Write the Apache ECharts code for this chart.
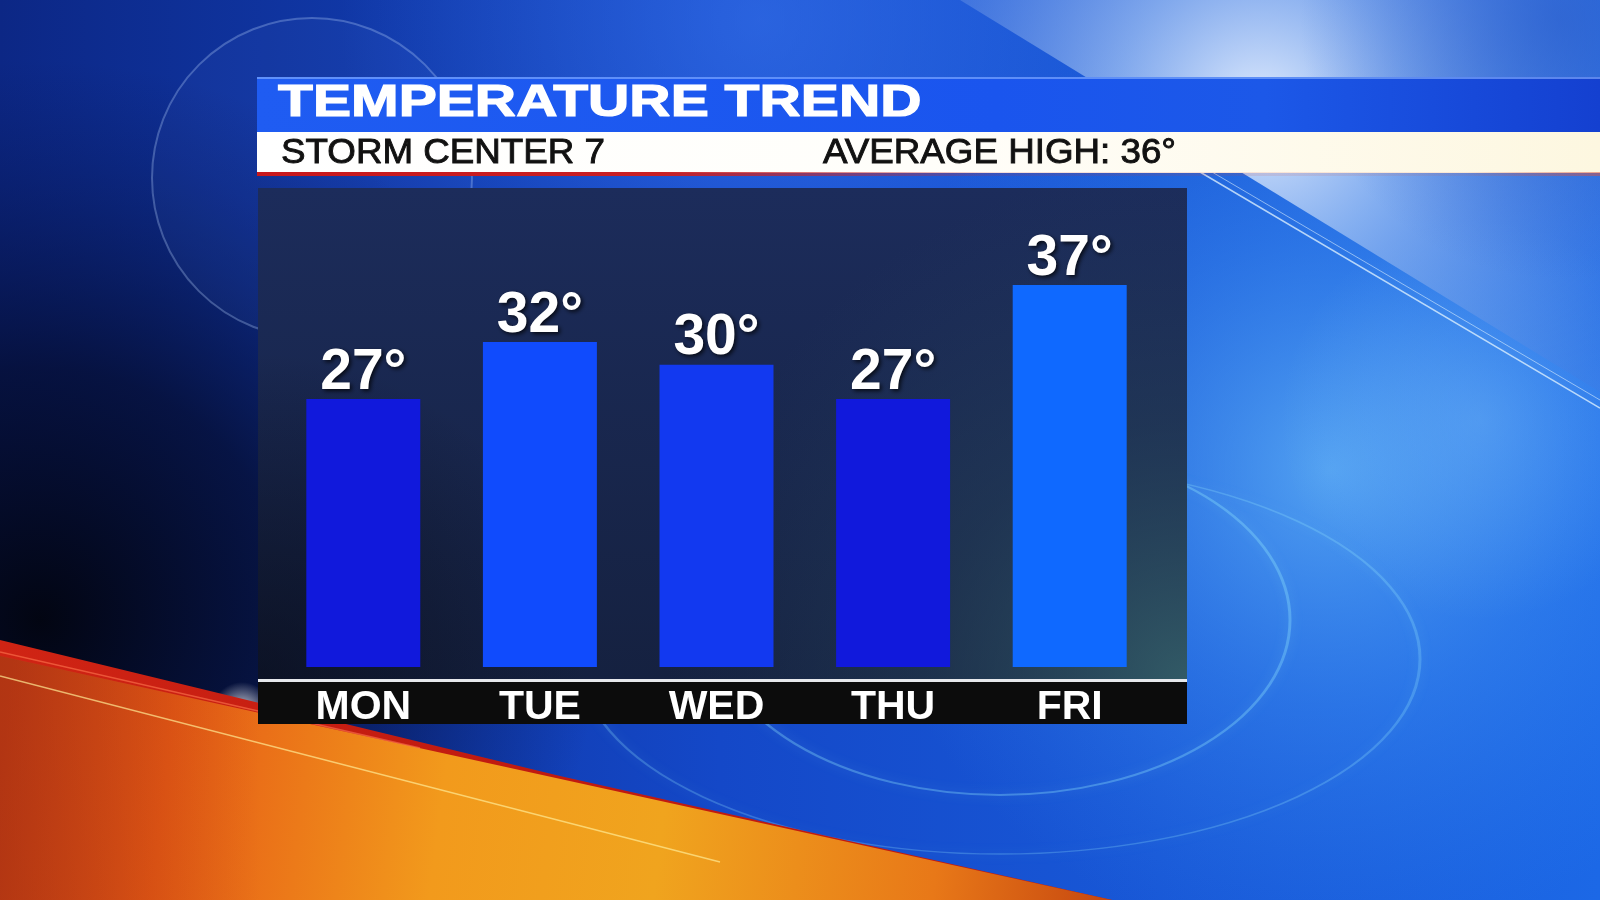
<!DOCTYPE html>
<html>
<head>
<meta charset="utf-8">
<script src="https://cdn.jsdelivr.net/npm/echarts@6/dist/echarts.min.js"></script>
<style>
html,body{margin:0;padding:0;background:#0b2580;}
#chart{width:1600px;height:900px;}
</style>
</head>
<body>
<div id="chart"></div>
<script>
// ---- data ----
const categories = ['MON', 'TUE', 'WED', 'THU', 'FRI'];
const temps = [27, 32, 30, 27, 37];
const barColors = ['#1119dc', '#104bfd', '#1239f0', '#1119dc', '#0f69ff'];
const titleText = 'TEMPERATURE TREND';
const subtitleLeft = 'STORM CENTER 7';
const subtitleRight = 'AVERAGE HIGH: 36°';
const yRange = [3.5, 45.5];

const FONT = "'Liberation Sans', Arial, Helvetica, sans-serif";

const chart = echarts.init(document.getElementById('chart'), null, {renderer: 'canvas'});

function rg(x, y, r, stops) {
  return {type: 'radial', x: x, y: y, r: r, global: true,
    colorStops: stops.map(s => ({offset: s[0], color: s[1]}))};
}
function lg(x, y, x2, y2, stops) {
  return {type: 'linear', x: x, y: y, x2: x2, y2: y2, global: true,
    colorStops: stops.map(s => ({offset: s[0], color: s[1]}))};
}
function ellipse(cx, cy, rx, ry, stroke, lw) {
  return {type: 'circle', z: 0, silent: true, x: cx, y: cy, scaleY: ry / rx,
    shape: {cx: 0, cy: 0, r: rx},
    style: {fill: 'none', stroke: stroke, lineWidth: lw, strokeNoScale: true,
      shadowBlur: 12, shadowColor: 'rgba(150,235,255,0.7)'}};
}

const bg = [
  // base background
  {type: 'rect', z: 0, silent: true, shape: {x: 0, y: 0, width: 1600, height: 900},
    style: {fill: lg(0, 0, 1600, 0, [[0, '#0c2785'], [0.45, '#1448c8'], [1, '#1c68e6']])}},
  // dark bottom-left
  {type: 'rect', z: 0, silent: true, shape: {x: 0, y: 0, width: 1600, height: 900},
    style: {fill: rg(40, 620, 560, [[0, 'rgba(2,4,14,0.97)'], [0.45, 'rgba(4,10,40,0.75)'], [1, 'rgba(6,20,80,0)']])}},
  // brighter top-center
  {type: 'rect', z: 0, silent: true, shape: {x: 0, y: 0, width: 1600, height: 900},
    style: {fill: rg(760, 20, 420, [[0, 'rgba(60,120,240,0.55)'], [1, 'rgba(60,120,240,0)']])}},
  // cyan glow right
  {type: 'rect', z: 0, silent: true, shape: {x: 0, y: 0, width: 1600, height: 900},
    style: {fill: rg(1330, 470, 480, [[0, 'rgba(120,205,255,0.6)'], [0.5, 'rgba(80,165,250,0.3)'], [1, 'rgba(60,140,240,0)']])}},
  {type: 'rect', z: 0, silent: true, shape: {x: 0, y: 0, width: 1600, height: 900},
    style: {fill: rg(1480, 420, 200, [[0, 'rgba(160,220,255,0.25)'], [1, 'rgba(160,220,255,0)']])}},
  // top-right light wedge
  {type: 'polygon', z: 0, silent: true, shape: {points: [[960, 0], [1600, 0], [1600, 392]]},
    style: {fill: rg(1260, 110, 420, [[0, 'rgba(235,243,255,0.95)'], [0.35, 'rgba(170,200,245,0.7)'], [1, 'rgba(70,120,220,0.25)']])}},
  {type: 'polygon', z: 0, silent: true, shape: {points: [[960, 0], [1600, 0], [1600, 392]]},
    style: {fill: rg(1560, 20, 260, [[0, 'rgba(40,90,200,0.6)'], [1, 'rgba(40,90,200,0)']])}},
  // diagonal thin lines
  {type: 'line', z: 0, silent: true, shape: {x1: 1200, y1: 172, x2: 1600, y2: 408},
    style: {stroke: 'rgba(230,245,255,0.75)', lineWidth: 1.5}},
  {type: 'line', z: 0, silent: true, shape: {x1: 1212, y1: 172, x2: 1600, y2: 400},
    style: {stroke: 'rgba(230,245,255,0.55)', lineWidth: 1}},
  // left ring (logo)
  {type: 'circle', z: 0, silent: true, shape: {cx: 312, cy: 178, r: 160},
    style: {fill: 'rgba(120,160,255,0.05)', stroke: 'rgba(190,215,255,0.3)', lineWidth: 2}},
  // right elliptical rings
  ellipse(1000, 620, 290, 175, 'rgba(150,235,255,0.32)', 3),
  ellipse(1000, 659, 420, 195, 'rgba(150,235,255,0.25)', 3),
  // white glare near orange edge
  {type: 'rect', z: 0, silent: true, shape: {x: 0, y: 0, width: 1600, height: 900},
    style: {fill: rg(242, 712, 30, [[0, 'rgba(255,255,255,0.85)'], [1, 'rgba(255,255,255,0)']])}},
  // red stripe
  {type: 'polygon', z: 0, silent: true, shape: {points: [[0, 640], [560, 776], [1112, 900], [0, 900]]},
    style: {fill: lg(0, 640, 500, 780, [[0, '#d02414'], [1, '#c01a10']])}},
  // orange swoosh
  {type: 'polygon', z: 0, silent: true, shape: {points: [[0, 656], [1112, 900], [0, 900]]},
    style: {fill: lg(0, 760, 1100, 900, [[0, '#c9401a'], [0.15, '#e65a16'], [0.4, '#f29a1c'], [0.6, '#f0a41e'], [0.85, '#e87818'], [1, '#c84a10']])}},
  // bottom-left darkening of orange
  {type: 'polygon', z: 0, silent: true, shape: {points: [[0, 656], [1112, 900], [0, 900]]},
    style: {fill: lg(0, 0, 260, 0, [[0, 'rgba(150,40,10,0.45)'], [1, 'rgba(150,40,10,0)']])}},
  // highlight lines
  {type: 'line', z: 0, silent: true, shape: {x1: 0, y1: 676, x2: 720, y2: 862},
    style: {stroke: 'rgba(255,235,150,0.7)', lineWidth: 1.5}},
  {type: 'line', z: 0, silent: true, shape: {x1: 0, y1: 652, x2: 420, y2: 748},
    style: {stroke: 'rgba(255,120,80,0.6)', lineWidth: 1.5}},

  // header bands
  {type: 'rect', z: 1, silent: true, shape: {x: 257, y: 77, width: 1343, height: 55},
    style: {fill: lg(257, 0, 1600, 0, [[0, '#1f5cf2'], [0.55, '#1a55ee'], [0.75, '#1c58e8'], [1, '#1440d0']])}},
  {type: 'rect', z: 1, silent: true, shape: {x: 257, y: 77, width: 1343, height: 2},
    style: {fill: 'rgba(140,180,255,0.6)'}},
  {type: 'rect', z: 1, silent: true, shape: {x: 257, y: 132, width: 1343, height: 41},
    style: {fill: lg(257, 0, 1600, 0, [[0, '#ffffff'], [0.5, '#fffefa'], [1, '#fdf7e0']])}},
  {type: 'rect', z: 1, silent: true, shape: {x: 257, y: 172, width: 1343, height: 4},
    style: {fill: lg(257, 0, 1600, 0, [[0, '#c8181c'], [0.3, '#c82024'], [0.55, 'rgba(200,40,40,0.15)'], [0.9, 'rgba(220,80,60,0.1)'], [1, 'rgba(220,80,60,0.5)']])}},

  // chart panel
  {type: 'rect', z: 1, silent: true, shape: {x: 258, y: 188, width: 929, height: 494},
    style: {fill: lg(0, 188, 0, 682, [[0, '#1c2c5b'], [1, '#152140']])}},
  {type: 'rect', z: 1, silent: true, shape: {x: 258, y: 188, width: 929, height: 494},
    style: {fill: rg(1187, 682, 520, [[0, 'rgba(60,110,115,0.75)'], [0.5, 'rgba(45,80,100,0.35)'], [1, 'rgba(40,70,100,0)']])}},
  {type: 'rect', z: 1, silent: true, shape: {x: 258, y: 188, width: 929, height: 494},
    style: {fill: rg(258, 682, 330, [[0, 'rgba(6,8,18,0.6)'], [1, 'rgba(6,8,18,0)']])}},
  {type: 'rect', z: 1, silent: true, shape: {x: 258, y: 679, width: 929, height: 3},
    style: {fill: '#e6e8ec'}},
  {type: 'rect', z: 1, silent: true, shape: {x: 258, y: 682, width: 929, height: 42},
    style: {fill: '#0c0c0c'}},

  // texts
  {type: 'text', z: 3, silent: true, x: 278, y: 104, scaleX: 1.27,
    style: {text: titleText, fill: '#ffffff', stroke: '#ffffff', lineWidth: 1.2,
      font: 'bold 45px ' + FONT, verticalAlign: 'middle', align: 'left'}},
  {type: 'text', z: 3, silent: true, x: 281, y: 153, scaleX: 1.05,
    style: {text: subtitleLeft, fill: '#111111', stroke: '#111111', lineWidth: 0.9,
      font: '35px ' + FONT, verticalAlign: 'middle', align: 'left'}},
  {type: 'text', z: 3, silent: true, x: 823, y: 153, scaleX: 1.05,
    style: {text: subtitleRight, fill: '#111111', stroke: '#111111', lineWidth: 0.9,
      font: '35px ' + FONT, verticalAlign: 'middle', align: 'left'}}
];

const option = {
  animation: false,
  backgroundColor: 'transparent',
  graphic: {elements: bg},
  grid: {left: 275, right: 442, top: 188, bottom: 233, containLabel: false},
  xAxis: {
    type: 'category',
    z: 10,
    data: categories,
    axisLine: {show: false},
    axisTick: {show: false},
    splitLine: {show: false},
    axisLabel: {
      color: '#ffffff', fontFamily: FONT, fontWeight: 'bold', fontSize: 41,
      lineHeight: 41, margin: 20
    }
  },
  yAxis: {
    type: 'value', min: yRange[0], max: yRange[1], show: false,
    splitLine: {show: false}
  },
  series: [{
    type: 'bar',
    z: 4,
    data: temps.map((v, i) => ({value: v, itemStyle: {color: barColors[i]}})),
    barWidth: 114,
    label: {
      show: true, position: 'top', distance: -4,
      formatter: '{c}°',
      color: '#ffffff', fontFamily: FONT, fontWeight: 'bold', fontSize: 57, lineHeight: 60,
      textShadowColor: 'rgba(0,0,0,0.75)', textShadowBlur: 4, textShadowOffsetX: 2, textShadowOffsetY: 2
    }
  }]
};
chart.setOption(option);
</script>
</body>
</html>
